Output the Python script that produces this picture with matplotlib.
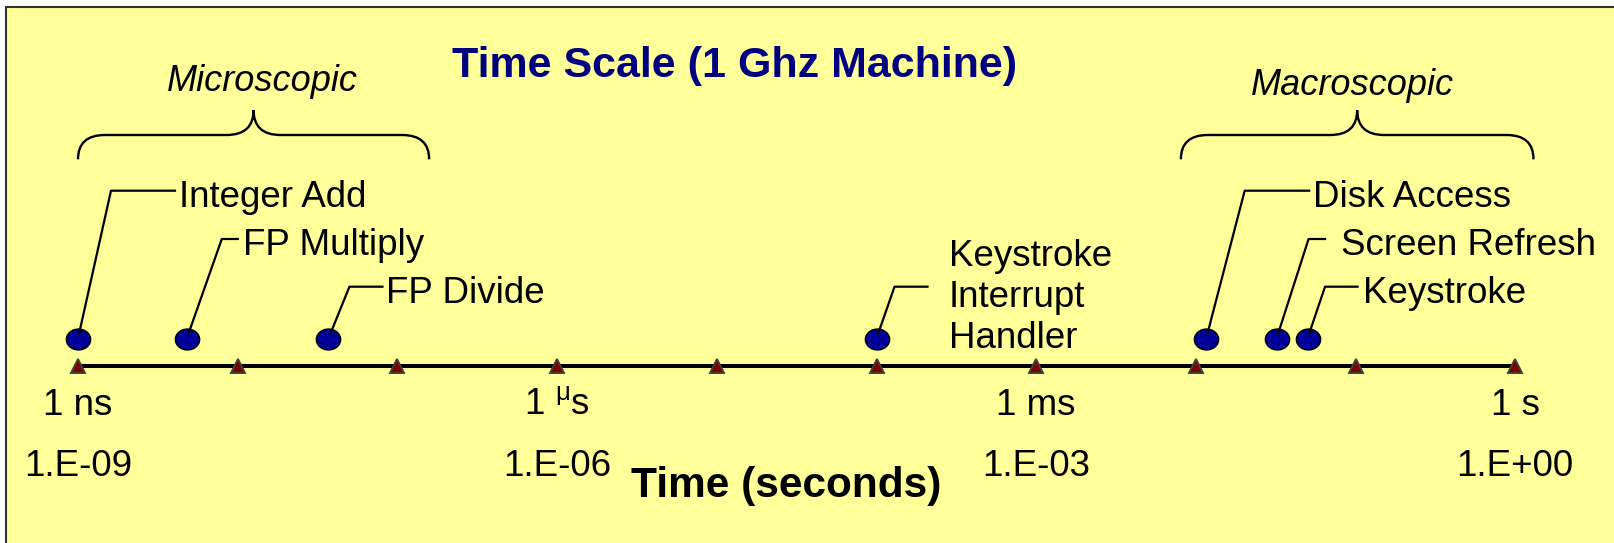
"""Time scale of machine events on a 1 GHz machine."""

import matplotlib
matplotlib.use("Agg")
import matplotlib.pyplot as plt
import matplotlib.transforms as mtransforms
import numpy as np
from matplotlib.patches import PathPatch, Rectangle
from matplotlib.path import Path

plt.rcParams['font.family'] = ['Liberation Sans', 'DejaVu Sans']
plt.rcParams['mathtext.fontset'] = 'custom'
plt.rcParams['mathtext.rm'] = 'Liberation Sans'

# events and their durations (seconds)
events = ["Integer Add", "FP Multiply", "FP Divide",
          "Keystroke\nInterrupt\nHandler",
          "Disk Access", "Screen Refresh", "Keystroke"]
times = [1e-9, 4.8e-9, 3.7e-8, 1e-4, 1.16e-2, 3.2e-2, 5e-2]

# axis decades
tick_exps = list(range(-9, 1))
tick_names = {-9: "1 ns", -6: r"1 $^{\mathrm{\mu}}$s", -3: "1 ms", 0: "1 s"}

# braces: label and the span they cover (seconds)
brace_labels = ["Microscopic", "Macroscopic"]
brace_spans = [(1e-9, 1.58e-7), (8.05e-3, 1.3)]

# label layout, in pixels relative to the dot
elbow_dx = [33, 35, 21, 18, 38.5, 32, 17.5]
level_y = [190.7, 239, 286.7, 286.7, 190.7, 239, 286.7]
hline_dx = [97, 51, 54, 51, 103, 48.5, 50]
text_dx = [101, 56, 58, 72, 107, 64.5, 55]
text_dy = [16, 16, 16, 61.3, 16, 16, 16]

W, H = 1614, 543
fig = plt.figure(figsize=(W / 100, H / 100), dpi=100)
fig.patch.set_facecolor('white')
ax = fig.add_axes([0, 0, 1, 1])
ax.axis('off')

# x: log time, 1 ns at px 78, one decade = 159.7 px; y: pixels from top
dec = 159.7
ax.set_xscale('log')
ax.set_xlim(10 ** (-9 - 78 / dec), 10 ** (-9 + (W - 78) / dec))
ax.set_ylim(H, 0)

# pixel transform (origin top-left)
pix = mtransforms.Affine2D().scale(1, -1).translate(0, H)


def to_px(t):
    return ax.transData.transform((t, 0))[0]


# yellow panel
ax.add_patch(Rectangle((6, 7), W + 50, H + 50, transform=pix,
                       facecolor='#FFFF99', edgecolor='#333333', lw=1.5,
                       zorder=0, clip_on=False))

ticks = [10.0 ** e for e in tick_exps]
axis_y = 366
dot_y = 338.5

ax.plot([ticks[0], ticks[-1]], [axis_y, axis_y], color='black', lw=2.9,
        solid_capstyle='butt', zorder=2)
ax.plot(ticks, [axis_y] * len(ticks), ls='', marker='^', ms=10,
        mfc='#800000', mec='#404040', mew=1.4, zorder=3)

for e, t in zip(tick_exps, ticks):
    if e in tick_names:
        ax.text(t, 415, tick_names[e], ha='center', va='baseline',
                fontsize=26.5)
        ax.text(t, 475.7, "1.E{:+03d}".format(e), ha='center',
                va='baseline', fontsize=26.5)

# event dots
circle = Path.unit_circle()
ellipse = Path(circle.vertices * np.array([1.0, 0.86]), circle.codes)
ax.plot(times, [dot_y] * len(times), ls='', marker=ellipse, ms=17.5,
        mfc='#000099', mec='black', mew=1, zorder=4)

# leader lines and labels
for name, t, edx, ly, hx, tx, tdy in zip(events, times, elbow_dx, level_y,
                                         hline_dx, text_dx, text_dy):
    cx = to_px(t)
    frac = 5 / (dot_y - ly)
    xs = [cx + edx * frac, cx + edx, cx + hx]
    ys = [dot_y - 5, ly, ly]
    ax.plot(xs, ys, color='black', lw=1.6, transform=pix, zorder=5)
    ax.text(cx + tx, ly + tdy, name, transform=pix, ha='left',
            va='baseline', fontsize=26.5, linespacing=1.22)

# braces
brace_text_y = [90.7, 95]
brace_text_dx = [8.5, -5]
for label, (t0, t1), ty, tdx in zip(brace_labels, brace_spans,
                                    brace_text_y, brace_text_dx):
    x0, x1 = to_px(t0), to_px(t1)
    xm = (x0 + x1) / 2
    r, yb, yh, yt = 27, 159.3, 135, 110
    verts = [(x0, yb), (x0, yh), (x0 + r, yh),
             (xm - r, yh), (xm, yh), (xm, yt),
             (xm, yh), (xm + r, yh),
             (x1 - r, yh), (x1, yh), (x1, yb)]
    codes = [Path.MOVETO, Path.CURVE3, Path.CURVE3,
             Path.LINETO, Path.CURVE3, Path.CURVE3,
             Path.CURVE3, Path.CURVE3,
             Path.LINETO, Path.CURVE3, Path.CURVE3]
    ax.add_patch(PathPatch(Path(verts, codes), transform=pix,
                           facecolor='none', edgecolor='black', lw=1.7,
                           zorder=5))
    ax.text(xm + tdx, ty, label, transform=pix, ha='center', va='baseline',
            fontsize=26, style='italic')

ax.text(735, 77.3, "Time Scale (1 Ghz Machine)", transform=pix,
        ha='center', va='baseline', fontsize=31, fontweight='bold',
        color='#000080')
ax.text(786, 496.7, "Time (seconds)", transform=pix, ha='center',
        va='baseline', fontsize=30.5, fontweight='bold')

fig.savefig('out.png', dpi=100)
